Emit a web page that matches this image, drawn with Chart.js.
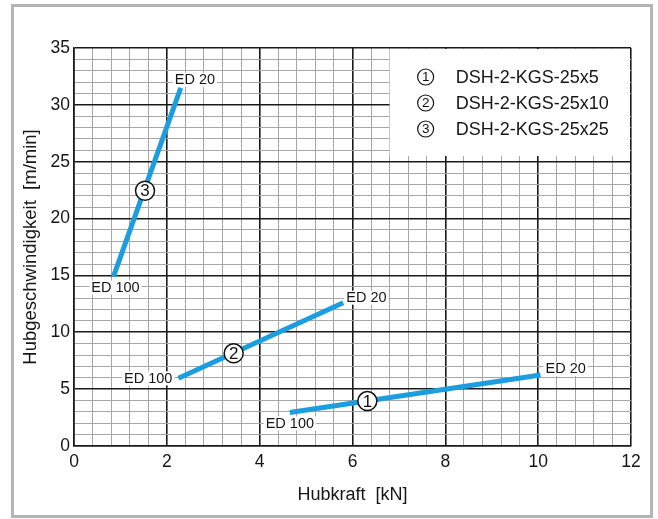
<!DOCTYPE html>
<html>
<head>
<meta charset="utf-8">
<script src="https://cdn.jsdelivr.net/npm/chart.js@4.4.0/dist/chart.umd.min.js"></script>
<style>
  html, body { margin: 0; padding: 0; background: #fff; }
  #frame { position: absolute; left: 11px; top: 4px; width: 636px; height: 508px; border: 3px solid #b4b4b4; }
  #wrap { position: absolute; left: 0; top: 0; width: 658px; height: 519px; }
</style>
</head>
<body>
<div id="frame"></div>
<div id="wrap"><canvas id="chart" width="658" height="519"></canvas></div>
<script>
// Werte
const seriesNames = ["DSH-2-KGS-25x5", "DSH-2-KGS-25x10", "DSH-2-KGS-25x25"];
const force1 = [4.65, 10.05];
const speed1 = [2.95, 6.25];
const force2 = [2.25, 5.8];
const speed2 = [5.95, 12.6];
const force3 = [0.85, 2.3];
const speed3 = [14.9, 31.5];
const endLabels = ["ED 100", "ED 20"];
// Lage der Kreisnummern auf den Kurven
const markerForce = [6.32, 3.44, 1.53];
const markerSpeed = [3.95, 8.15, 22.45];
const xTickStep = 0.4, xLabelStep = 2;
const yTickStep = 1, yLabelStep = 5;

const lineColor = "#1b9ddf";
const textColor = "#161616";
const font = "Liberation Sans, Arial, Helvetica, sans-serif";

// Platzierung der ED-Beschriftungen: [dx, dy, align] je Kurve, Anfang/Ende
const labelPlacement = [
  [[0, 11, "center"], [5, -6, "left"]],
  [[-6, 0, "right"], [3, -5, "left"]],
  [[2, 11, "center"], [-6, -8, "left"]]
];

function isMajor(v, step) {
  const r = v / step;
  return Math.abs(r - Math.round(r)) < 1e-6;
}

function toPoints(xs, ys) {
  return xs.map((x, i) => ({ x: x, y: ys[i] }));
}

const decor = {
  id: "decor",
  beforeDatasetsDraw(chart) {
    // weisses Legendenfeld oben rechts
    const { ctx, chartArea, scales } = chart;
    const left = scales.x.getPixelForValue(6.8);
    const bottom = scales.y.getPixelForValue(25.5);
    ctx.save();
    ctx.fillStyle = "#fff";
    ctx.fillRect(left, chartArea.top + 1, chartArea.right - 1 - left, bottom - chartArea.top - 1);
    ctx.restore();
  },
  afterDatasetsDraw(chart) {
    const { ctx, scales } = chart;
    ctx.save();
    // ED-Beschriftungen
    ctx.font = "14.5px " + font;
    ctx.textBaseline = "middle";
    chart.data.datasets.forEach((ds, i) => {
      ds.data.forEach((p, j) => {
        const [dx, dy, align] = labelPlacement[i][j];
        const px = scales.x.getPixelForValue(p.x) + dx;
        const py = scales.y.getPixelForValue(p.y) + dy;
        const w = ctx.measureText(endLabels[j]).width;
        let l = px;
        if (align === "center") l = px - w / 2;
        if (align === "right") l = px - w;
        ctx.fillStyle = "#fff";
        ctx.fillRect(l - 2, py - 7, w + 4, 14);
        ctx.fillStyle = textColor;
        ctx.textAlign = align;
        ctx.fillText(endLabels[j], px, py + 0.5);
      });
    });
    // Kreisnummern auf den Kurven
    markerForce.forEach((f, i) => {
      const px = scales.x.getPixelForValue(f);
      const py = scales.y.getPixelForValue(markerSpeed[i]);
      ctx.beginPath();
      ctx.arc(px, py, 9.5, 0, Math.PI * 2);
      ctx.fillStyle = "#fff";
      ctx.fill();
      ctx.lineWidth = 1.5;
      ctx.strokeStyle = "#111";
      ctx.stroke();
      ctx.fillStyle = "#111";
      ctx.font = "17px " + font;
      ctx.textAlign = "center";
      ctx.fillText(String(i + 1), px, py + 1);
    });
    // Legende
    const lx = scales.x.getPixelForValue(6.8);
    const ly = chart.chartArea.top;
    seriesNames.forEach((name, i) => {
      const cy = ly + 29 + i * 26;
      ctx.beginPath();
      ctx.arc(lx + 36, cy, 8, 0, Math.PI * 2);
      ctx.lineWidth = 1.2;
      ctx.strokeStyle = "#111";
      ctx.stroke();
      ctx.fillStyle = "#111";
      ctx.font = "13.5px " + font;
      ctx.textAlign = "center";
      ctx.fillText(String(i + 1), lx + 36, cy + 0.5);
      ctx.font = "18px " + font;
      ctx.textAlign = "left";
      ctx.fillStyle = textColor;
      ctx.fillText(name, lx + 66, cy + 1);
    });
    ctx.restore();
  }
};

function gridColor(step) {
  return (c) => (c.tick && isMajor(c.tick.value, step)) ? "#1a1a1a" : "#a6a6a6";
}
function gridWidth(step) {
  return (c) => (c.tick && isMajor(c.tick.value, step)) ? 1.6 : 1;
}

const lineStyle = {
  showLine: true,
  borderColor: lineColor,
  borderWidth: 5,
  pointRadius: 0,
  borderCapStyle: "butt"
};

new Chart(document.getElementById("chart"), {
  type: "scatter",
  data: {
    datasets: [
      Object.assign({ label: seriesNames[0], data: toPoints(force1, speed1) }, lineStyle),
      Object.assign({ label: seriesNames[1], data: toPoints(force2, speed2) }, lineStyle),
      Object.assign({ label: seriesNames[2], data: toPoints(force3, speed3) }, lineStyle)
    ]
  },
  options: {
    responsive: false,
    animation: false,
    layout: { padding: { top: 48, right: 27, left: 0, bottom: 0 } },
    plugins: { legend: { display: false }, tooltip: { enabled: false } },
    scales: {
      x: {
        type: "linear",
        min: 0,
        max: 12,
        afterFit: (s) => { s.height = 73; },
        ticks: {
          stepSize: xTickStep,
          autoSkip: false,
          maxRotation: 0,
          padding: 6,
          color: textColor,
          font: { family: font, size: 17.5 },
          callback: (v) => isMajor(v, xLabelStep) ? Math.round(v) : ""
        },
        grid: { color: gridColor(xLabelStep), lineWidth: gridWidth(xLabelStep), drawTicks: false },
        border: { color: "#1a1a1a", width: 1.6 },
        title: {
          display: true,
          text: "Hubkraft  [kN]",
          color: textColor,
          font: { family: font, size: 18 },
          padding: { top: 0, bottom: 13 }
        }
      },
      y: {
        type: "linear",
        min: 0,
        max: 35,
        afterFit: (s) => { s.width = 74; },
        ticks: {
          stepSize: yTickStep,
          autoSkip: false,
          padding: 4,
          color: textColor,
          font: { family: font, size: 17.5 },
          callback: (v) => isMajor(v, yLabelStep) ? Math.round(v) : ""
        },
        grid: { color: gridColor(yLabelStep), lineWidth: gridWidth(yLabelStep), drawTicks: false },
        border: { color: "#1a1a1a", width: 1.6 },
        title: {
          display: true,
          text: "Hubgeschwindigkeit  [m/min]",
          color: textColor,
          font: { family: font, size: 18.5 },
          padding: { top: 20, bottom: 0 }
        }
      }
    }
  },
  plugins: [decor]
});
</script>
</body>
</html>
